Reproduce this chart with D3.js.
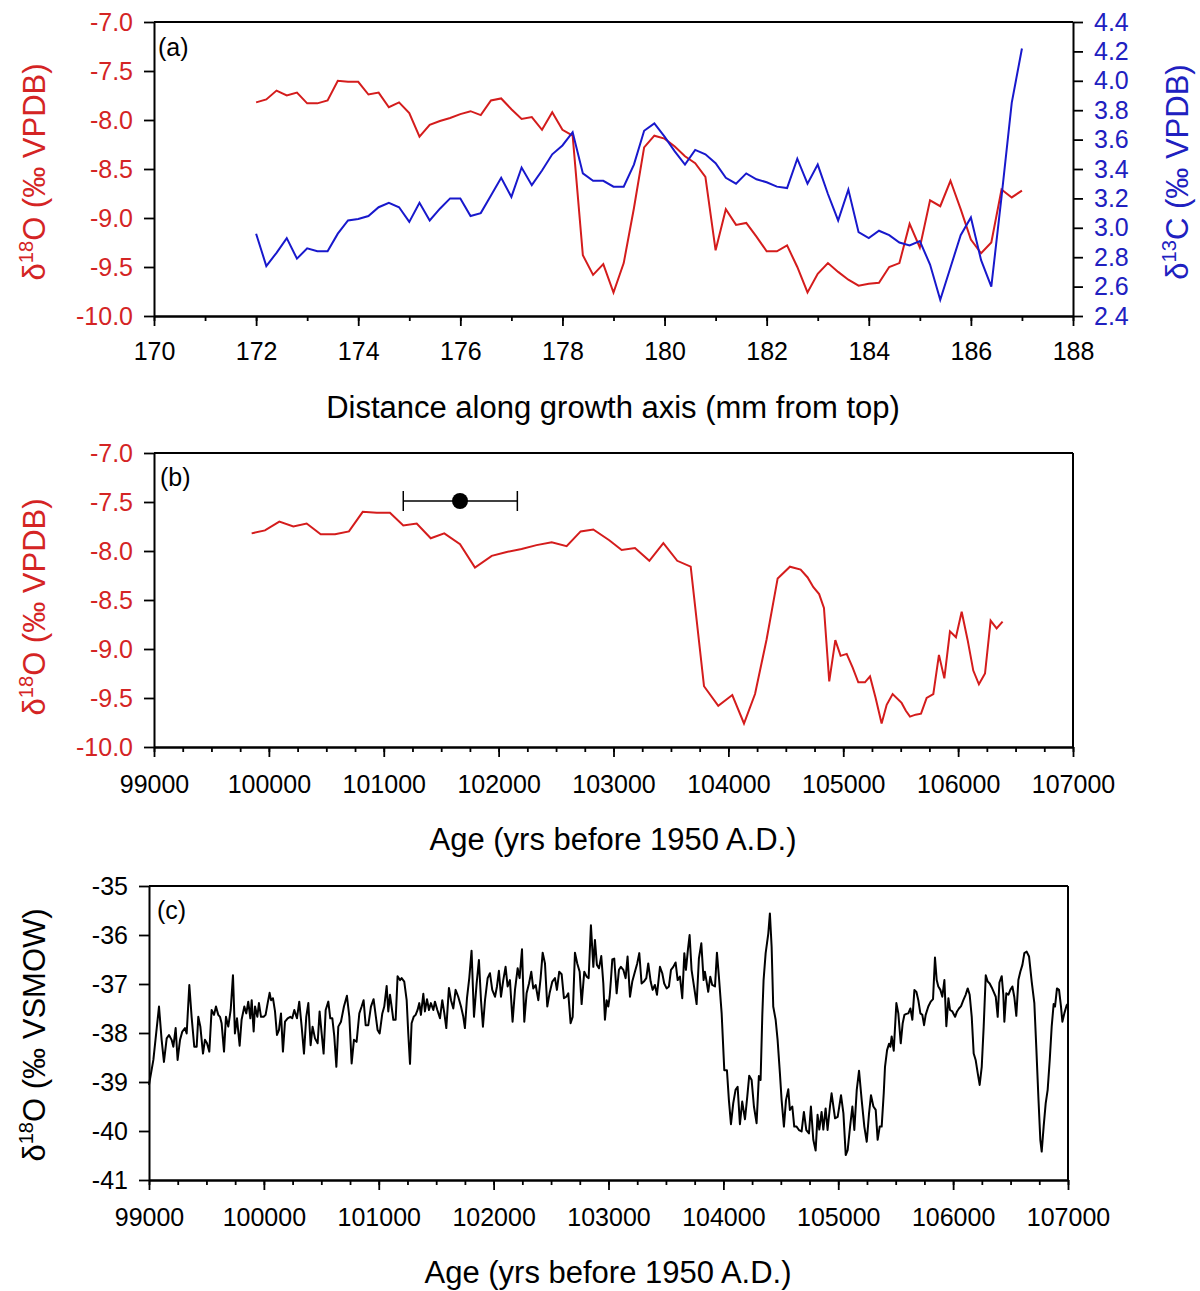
<!DOCTYPE html>
<html>
<head>
<meta charset="utf-8">
<script src="https://cdn.jsdelivr.net/npm/d3@7/dist/d3.min.js"></script>
<style>
  body { margin: 0; background: #fff; }
  svg { font-family: "Liberation Sans", Arial, sans-serif; }
</style>
</head>
<body>
<div id="vis"></div>
<script>
// ---- stalagmite samples: distance (mm from top), d18O, d13C, modelled age ----
var distance = [172.0, 172.2, 172.4, 172.6, 172.8, 173.0, 173.2, 173.4, 173.6, 173.8,
    174.0, 174.2, 174.4, 174.6, 174.8, 175.0, 175.2, 175.4, 175.6, 175.8,
    176.0, 176.2, 176.4, 176.6, 176.8, 177.0, 177.2, 177.4, 177.6, 177.8,
    178.0, 178.2, 178.4, 178.6, 178.8, 179.0, 179.2, 179.4, 179.6, 179.8,
    180.0, 180.2, 180.4, 180.6, 180.8, 181.0, 181.2, 181.4, 181.6, 181.8,
    182.0, 182.2, 182.4, 182.6, 182.8, 183.0, 183.2, 183.4, 183.6, 183.8,
    184.0, 184.2, 184.4, 184.6, 184.8, 185.0, 185.2, 185.4, 185.6, 185.8,
    186.0, 186.2, 186.4, 186.6, 186.8, 187.0];

var d18O = [-7.82, -7.79, -7.70, -7.75, -7.72, -7.83, -7.83, -7.80, -7.60, -7.61,
    -7.61, -7.74, -7.72, -7.87, -7.82, -7.93, -8.17, -8.05, -8.01, -7.98,
    -7.94, -7.91, -7.95, -7.80, -7.78, -7.89, -7.99, -7.97, -8.10, -7.92,
    -8.10, -8.16, -9.38, -9.58, -9.47, -9.76, -9.46, -8.90, -8.28, -8.16,
    -8.19, -8.27, -8.37, -8.44, -8.58, -9.33, -8.91, -9.07, -9.05, -9.19,
    -9.34, -9.34, -9.28, -9.50, -9.76, -9.57, -9.46, -9.55, -9.63, -9.69,
    -9.67, -9.66, -9.50, -9.46, -9.06, -9.30, -8.82, -8.88, -8.62, -8.91,
    -9.22, -9.36, -9.25, -8.71, -8.79, -8.72];

var d13C = [2.96, 2.74, 2.83, 2.93, 2.79, 2.86, 2.84, 2.84, 2.96, 3.05,
    3.06, 3.08, 3.14, 3.17, 3.14, 3.04, 3.17, 3.05, 3.13, 3.20,
    3.20, 3.08, 3.10, 3.22, 3.34, 3.21, 3.41, 3.29, 3.39, 3.50,
    3.56, 3.65, 3.37, 3.32, 3.32, 3.28, 3.28, 3.43, 3.66, 3.71,
    3.62, 3.52, 3.43, 3.53, 3.50, 3.44, 3.34, 3.30, 3.37, 3.33,
    3.31, 3.28, 3.27, 3.47, 3.30, 3.43, 3.23, 3.05, 3.26, 2.97,
    2.93, 2.98, 2.95, 2.90, 2.88, 2.91, 2.75, 2.51, 2.73, 2.95,
    3.07, 2.78, 2.60, 3.21, 3.85, 4.22];

var age = [99850, 99966, 100091, 100213, 100329, 100451, 100576, 100697, 100817, 100939,
    101054, 101170, 101287, 101409, 101527, 101664, 101794, 101940, 102070, 102200,
    102330, 102462, 102592, 102714, 102824, 102963, 103071, 103187, 103312, 103434,
    103555, 103672, 103788, 103912, 104034, 104136, 104232, 104333, 104429, 104536,
    104629, 104690, 104740, 104790, 104832, 104878, 104931, 104977, 105030, 105082,
    105131, 105189, 105233, 105282, 105334, 105378, 105430, 105508, 105545, 105581,
    105630, 105677, 105726, 105784, 105833, 105880, 105929, 105981, 106031, 106083,
    106132, 106181, 106234, 106283, 106335, 106387];

// U-Th date with 2-sigma range
var uthDate = { age: 101664, lo: 101170, hi: 102163, d18O: -7.49 };

// ---- Greenland ice core d18O (age, permil VSMOW) ----
var ngrip = [
    [99000, -39.06], [99038, -38.55], [99087, -37.46], [99110, -38.14], [99130, -38.59],
    [99154, -38.11], [99174, -38.04], [99197, -38.14], [99212, -38.28], [99232, -37.90],
    [99249, -38.55], [99270, -38.14], [99290, -37.97], [99313, -37.90], [99328, -38.01],
    [99351, -37.02], [99371, -37.67], [99394, -38.28], [99415, -38.28], [99429, -37.67],
    [99447, -37.87], [99470, -38.42], [99487, -38.14], [99505, -38.21], [99525, -38.38],
    [99545, -37.53], [99566, -37.63], [99583, -37.46], [99603, -37.63], [99618, -37.67],
    [99632, -37.80], [99653, -38.38], [99670, -37.67], [99690, -37.87], [99711, -37.53],
    [99731, -36.82], [99748, -38.01], [99766, -37.70], [99789, -38.26], [99806, -37.73],
    [99830, -37.46], [99847, -37.60], [99864, -37.36], [99882, -37.70], [99894, -37.33],
    [99911, -37.97], [99923, -37.46], [99943, -37.67], [99957, -37.39], [99975, -37.67],
    [99998, -37.67], [100015, -37.63], [100033, -37.39], [100050, -37.18], [100062, -37.33],
    [100079, -37.29], [100097, -37.56], [100114, -38.04], [100131, -37.94], [100149, -37.60],
    [100166, -38.38], [100184, -37.77], [100207, -37.70], [100230, -37.67], [100247, -37.70],
    [100265, -37.53], [100288, -37.70], [100308, -37.36], [100329, -37.87], [100349, -38.42],
    [100369, -37.67], [100387, -37.39], [100407, -38.25], [100424, -37.87], [100445, -38.11],
    [100468, -38.21], [100485, -37.56], [100503, -38.01], [100520, -38.42], [100538, -37.53],
    [100561, -37.36], [100578, -37.70], [100596, -37.70], [100613, -38.07], [100631, -38.69],
    [100648, -37.87], [100671, -37.77], [100697, -37.46], [100723, -37.24], [100744, -37.67],
    [100764, -38.62], [100784, -38.14], [100807, -38.18], [100831, -37.60], [100851, -37.46],
    [100868, -37.33], [100886, -37.84], [100909, -37.84], [100932, -37.46], [100955, -37.31],
    [100990, -37.94], [101008, -38.01], [101031, -37.60], [101048, -37.46], [101069, -37.04],
    [101083, -37.56], [101098, -37.22], [101112, -37.46], [101127, -37.73], [101147, -37.73],
    [101164, -36.84], [101185, -36.92], [101199, -36.88], [101222, -36.95], [101243, -37.33],
    [101257, -38.01], [101272, -38.63], [101286, -37.80], [101304, -37.67], [101321, -37.63],
    [101338, -37.53], [101353, -37.39], [101367, -37.63], [101388, -37.20], [101402, -37.56],
    [101420, -37.31], [101437, -37.53], [101454, -37.39], [101475, -37.53], [101489, -37.36],
    [101510, -37.53], [101533, -37.70], [101553, -37.33], [101571, -37.60], [101588, -37.90],
    [101611, -37.08], [101629, -37.33], [101649, -37.50], [101669, -37.12], [101692, -37.26],
    [101716, -37.46], [101736, -37.67], [101750, -37.90], [101768, -37.29], [101788, -36.88],
    [101808, -36.32], [101829, -37.67], [101852, -36.99], [101872, -36.51], [101890, -37.33],
    [101907, -37.87], [101925, -37.33], [101948, -36.88], [101968, -36.78], [101988, -37.12],
    [102012, -37.26], [102029, -37.05], [102046, -36.73], [102064, -37.26], [102084, -36.92],
    [102104, -36.65], [102122, -37.05], [102142, -36.92], [102165, -37.77], [102186, -37.12],
    [102209, -36.68], [102226, -36.88], [102247, -36.29], [102267, -37.77], [102287, -37.19],
    [102308, -36.99], [102328, -36.75], [102345, -37.09], [102366, -37.02], [102389, -37.33],
    [102409, -36.88], [102427, -36.36], [102447, -36.58], [102467, -37.46], [102487, -37.19],
    [102511, -36.95], [102534, -36.88], [102551, -37.12], [102571, -36.75], [102592, -36.80],
    [102612, -37.29], [102633, -37.26], [102650, -37.19], [102670, -37.80], [102688, -37.67],
    [102708, -36.36], [102728, -36.58], [102749, -36.75], [102766, -37.41], [102789, -36.75],
    [102810, -36.85], [102827, -36.88], [102847, -35.80], [102868, -36.65], [102882, -36.10],
    [102899, -36.61], [102917, -36.68], [102937, -36.43], [102955, -36.99], [102969, -37.73],
    [102984, -37.33], [102998, -37.46], [103010, -37.26], [103021, -36.92], [103033, -36.50],
    [103050, -36.48], [103071, -37.19], [103091, -36.71], [103108, -36.65], [103129, -36.71],
    [103149, -36.88], [103166, -36.44], [103187, -37.26], [103207, -36.95], [103230, -36.75],
    [103250, -36.58], [103268, -36.37], [103288, -36.99], [103308, -36.95], [103329, -36.88],
    [103346, -36.58], [103367, -36.95], [103384, -37.12], [103404, -37.02], [103422, -37.22],
    [103448, -36.65], [103468, -36.78], [103485, -36.99], [103506, -37.09], [103526, -37.05],
    [103544, -36.71], [103564, -36.65], [103584, -36.56], [103602, -36.92], [103622, -36.85],
    [103642, -37.29], [103660, -36.37], [103674, -36.71], [103691, -36.31], [103706, -36.00],
    [103723, -36.71], [103747, -37.09], [103767, -37.41], [103787, -36.48], [103808, -36.17],
    [103828, -36.92], [103839, -36.75], [103854, -36.95], [103868, -37.16], [103886, -36.85],
    [103903, -37.02], [103927, -37.05], [103944, -36.36], [103961, -36.85], [103985, -37.60],
    [104008, -38.76], [104031, -38.76], [104048, -39.37], [104066, -39.86], [104086, -39.43],
    [104106, -39.16], [104124, -39.10], [104144, -39.86], [104164, -39.40], [104188, -39.76],
    [104208, -39.30], [104225, -38.87], [104246, -38.96], [104266, -39.50], [104289, -39.84],
    [104309, -38.88], [104324, -38.96], [104339, -37.63], [104350, -36.92], [104368, -36.37],
    [104391, -35.97], [104405, -35.56], [104420, -36.24], [104434, -37.46], [104455, -37.73],
    [104472, -38.14], [104492, -38.82], [104507, -39.37], [104527, -39.91], [104545, -39.37],
    [104565, -39.15], [104579, -39.57], [104600, -39.50], [104617, -39.91], [104637, -39.91],
    [104658, -39.98], [104681, -40.01], [104701, -39.61], [104722, -39.98], [104745, -40.05],
    [104762, -39.50], [104783, -40.18], [104803, -40.40], [104820, -39.67], [104835, -39.97],
    [104855, -39.61], [104870, -39.97], [104890, -39.54], [104907, -39.98], [104928, -39.50],
    [104942, -39.23], [104960, -39.54], [104972, -39.74], [104995, -39.71], [105024, -39.27],
    [105045, -39.64], [105065, -40.49], [105082, -40.39], [105103, -39.91], [105123, -39.50],
    [105140, -39.98], [105161, -39.16], [105181, -38.77], [105204, -39.37], [105227, -39.91],
    [105248, -40.22], [105268, -39.64], [105285, -39.27], [105306, -39.50], [105326, -39.57],
    [105343, -40.18], [105361, -39.91], [105378, -39.91], [105396, -39.23], [105407, -38.69],
    [105425, -38.35], [105442, -38.22], [105454, -38.28], [105465, -38.07], [105483, -38.36],
    [105506, -37.39], [105523, -37.60], [105544, -38.21], [105561, -37.80], [105576, -37.63],
    [105593, -37.61], [105610, -37.60], [105628, -37.50], [105645, -37.73], [105663, -37.12],
    [105680, -37.16], [105697, -37.33], [105715, -37.60], [105732, -37.63], [105747, -37.84],
    [105761, -37.63], [105784, -37.46], [105805, -37.36], [105825, -37.31], [105842, -36.46],
    [105857, -36.92], [105871, -37.05], [105889, -37.12], [105906, -37.26], [105924, -36.92],
    [105941, -37.86], [105959, -37.29], [105973, -37.53], [105993, -37.56], [106017, -37.67],
    [106034, -37.56], [106051, -37.50], [106069, -37.45], [106089, -37.33], [106109, -37.22],
    [106127, -37.09], [106144, -37.22], [106162, -37.67], [106179, -38.42], [106196, -38.55],
    [106214, -38.82], [106231, -39.06], [106249, -38.69], [106266, -37.87], [106284, -36.82],
    [106301, -36.95], [106318, -36.99], [106336, -37.07], [106353, -37.16], [106371, -37.26],
    [106388, -37.67], [106403, -36.97], [106423, -36.84], [106437, -37.22], [106446, -37.77],
    [106463, -37.19], [106481, -37.22], [106498, -37.12], [106516, -37.05], [106533, -37.27],
    [106550, -37.65], [106568, -36.92], [106585, -36.75], [106603, -36.61], [106620, -36.37],
    [106640, -36.34], [106661, -36.44], [106684, -36.95], [106707, -37.39], [106725, -38.35],
    [106742, -39.30], [106759, -40.18], [106771, -40.42], [106788, -39.91], [106806, -39.43],
    [106823, -39.16], [106841, -38.55], [106858, -37.87], [106875, -37.41], [106887, -37.46],
    [106904, -37.09], [106922, -37.12], [106939, -37.46], [106951, -37.77], [106968, -37.60],
    [106989, -37.43], [107000, -37.40]
];

// ---- axis ticks ----
var distTicks = [170, 172, 174, 176, 178, 180, 182, 184, 186, 188];
var ageTicks = [99000, 100000, 101000, 102000, 103000, 104000, 105000, 106000, 107000];
var oxyTicks = [-10.0, -9.5, -9.0, -8.5, -8.0, -7.5, -7.0];
var carbTicks = [2.4, 2.6, 2.8, 3.0, 3.2, 3.4, 3.6, 3.8, 4.0, 4.2, 4.4];
var iceTicks = [-41, -40, -39, -38, -37, -36, -35];

var redText = "#d42424", blueText = "#2020c0";
var redLine = "#d41c1c", blueLine = "#1818cc";
var tickFont = 25, titleFont = 31;

var svg = d3.select("#vis").append("svg")
    .attr("width", 1200)
    .attr("height", 1291);

// scales, one set per panel
var xA = d3.scaleLinear().domain([170, 188]).range([154, 1073]);
var yA = d3.scaleLinear().domain([-10, -7]).range([316, 22]);
var yA2 = d3.scaleLinear().domain([2.4, 4.4]).range([316, 22]);
var xB = d3.scaleLinear().domain([99000, 107000]).range([154, 1073]);
var yB = d3.scaleLinear().domain([-10, -7]).range([747, 453]);
var xC = d3.scaleLinear().domain([99000, 107000]).range([149, 1068]);
var yC = d3.scaleLinear().domain([-41, -35]).range([1180, 886]);

function styleAxis(sel, color) {
    sel.attr("font-family", null).attr("font-size", tickFont);
    sel.selectAll(".domain").attr("stroke", "#000").attr("stroke-width", 2);
    sel.selectAll(".tick line").attr("stroke", "#000").attr("stroke-width", 1.8);
    sel.selectAll(".tick text").attr("fill", color);
}

function xAxis(scale, y0, major, minorStep, pad) {
    // minor ticks first, then labelled major ticks on top
    var d = scale.domain();
    svg.append("g")
        .attr("transform", "translate(0," + y0 + ")")
        .call(d3.axisBottom(scale).tickValues(d3.range(d[0], d[1] + minorStep / 2, minorStep))
            .tickSize(5).tickSizeOuter(0).tickFormat(""))
        .call(styleAxis, "#000");
    svg.append("g")
        .attr("transform", "translate(0," + y0 + ")")
        .call(d3.axisBottom(scale).tickValues(major).tickSize(10).tickSizeOuter(0)
            .tickPadding(pad).tickFormat(function(v) { return String(v); }))
        .call(styleAxis, "#000");
}

function yAxis(scale, x0, ticks, fmt, color, right) {
    var ax = right ? d3.axisRight(scale) : d3.axisLeft(scale);
    svg.append("g")
        .attr("transform", "translate(" + x0 + ",0)")
        .call(ax.tickValues(ticks).tickSize(10).tickSizeOuter(0).tickPadding(11).tickFormat(fmt))
        .call(styleAxis, color);
}

function frame(x0, x1, y0) {
    svg.append("line")
        .attr("x1", x0).attr("x2", x1).attr("y1", y0).attr("y2", y0)
        .attr("stroke", "#000").attr("stroke-width", 2);
}

function rightEdge(x0, y0, y1) {
    svg.append("line")
        .attr("x1", x0).attr("x2", x0).attr("y1", y0).attr("y2", y1)
        .attr("stroke", "#000").attr("stroke-width", 2);
}

// rotated axis title with a superscript isotope number
function isoTitle(cx, cy, element, mass, unit, color) {
    var t = svg.append("text")
        .attr("transform", "translate(" + cx + "," + cy + ") rotate(-90)")
        .attr("text-anchor", "middle")
        .attr("font-size", titleFont)
        .attr("fill", color);
    t.append("tspan").text("\u03b4");
    t.append("tspan").attr("font-size", titleFont * 0.65).attr("dy", -12).text(mass);
    t.append("tspan").attr("dy", 12).text(element + " (\u2030 " + unit + ")");
}

function xTitle(cx, y, txt) {
    svg.append("text")
        .attr("x", cx).attr("y", y)
        .attr("text-anchor", "middle")
        .attr("font-size", titleFont)
        .text(txt);
}

function panelTag(x, y, txt) {
    svg.append("text").attr("x", x).attr("y", y)
        .attr("font-size", 25).text(txt);
}

var fmt1 = function(v) { return v.toFixed(1); };

// ---------- (a) isotopes against distance ----------
frame(154, 1073, 22);
xAxis(xA, 316, distTicks, 1, 16);
yAxis(yA, 154, oxyTicks, fmt1, redText, false);
yAxis(yA2, 1073, carbTicks, fmt1, blueText, true);

var lineA = d3.line()
    .x(function(d, i) { return xA(distance[i]); })
    .y(function(d) { return yA(d); });
var lineA2 = d3.line()
    .x(function(d, i) { return xA(distance[i]); })
    .y(function(d) { return yA2(d); });

svg.append("path").datum(d18O)
    .attr("d", lineA).attr("fill", "none")
    .attr("stroke", redLine).attr("stroke-width", 2);
svg.append("path").datum(d13C)
    .attr("d", lineA2).attr("fill", "none")
    .attr("stroke", blueLine).attr("stroke-width", 2);

panelTag(158, 56, "(a)");
isoTitle(45, 172, "O", "18", "VPDB", redText);
isoTitle(1188, 172, "C", "13", "VPDB", blueText);
xTitle(613, 418, "Distance along growth axis (mm from top)");

// ---------- (b) d18O against age ----------
frame(154, 1073, 453);
rightEdge(1073, 453, 747);
xAxis(xB, 747, ageTicks, 250, 18);
yAxis(yB, 154, oxyTicks, fmt1, redText, false);

var lineB = d3.line()
    .x(function(d, i) { return xB(age[i]); })
    .y(function(d) { return yB(d); });
svg.append("path").datum(d18O)
    .attr("d", lineB).attr("fill", "none")
    .attr("stroke", redLine).attr("stroke-width", 2);

// dating point with error bar
var eb = svg.append("g");
eb.append("line")
    .attr("x1", xB(uthDate.lo)).attr("x2", xB(uthDate.hi))
    .attr("y1", yB(uthDate.d18O)).attr("y2", yB(uthDate.d18O))
    .attr("stroke", "#000").attr("stroke-width", 1.5);
[uthDate.lo, uthDate.hi].forEach(function(v) {
    eb.append("line")
        .attr("x1", xB(v)).attr("x2", xB(v))
        .attr("y1", yB(uthDate.d18O) - 10).attr("y2", yB(uthDate.d18O) + 10)
        .attr("stroke", "#000").attr("stroke-width", 1.5);
});
eb.append("circle")
    .attr("cx", xB(uthDate.age)).attr("cy", yB(uthDate.d18O))
    .attr("r", 8).attr("fill", "#000");

panelTag(160, 486, "(b)");
isoTitle(45, 607, "O", "18", "VPDB", redText);
xTitle(613, 850, "Age (yrs before 1950 A.D.)");

// ---------- (c) ice core ----------
frame(149, 1068, 886);
rightEdge(1068, 886, 1180);
xAxis(xC, 1180, ageTicks, 250, 18);
yAxis(yC, 149, iceTicks, function(v) { return String(v); }, "#000", false);

var lineC = d3.line()
    .x(function(d) { return xC(d[0]); })
    .y(function(d) { return yC(d[1]); });
svg.append("path").datum(ngrip)
    .attr("d", lineC).attr("fill", "none")
    .attr("stroke", "#000").attr("stroke-width", 2)
    .attr("stroke-linejoin", "round");

panelTag(157, 919, "(c)");
isoTitle(45, 1035, "O", "18", "VSMOW", "#000");
xTitle(608, 1283, "Age (yrs before 1950 A.D.)");
</script>
</body>
</html>
